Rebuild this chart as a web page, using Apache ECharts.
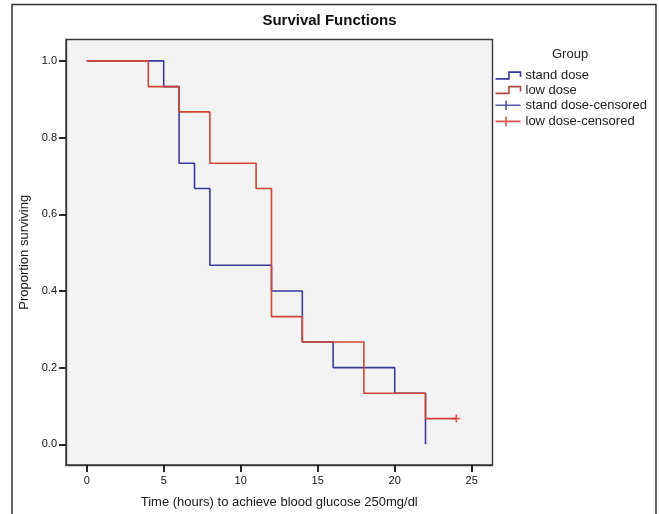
<!DOCTYPE html>
<html>
<head>
<meta charset="utf-8">
<script src="https://cdn.jsdelivr.net/npm/echarts@6/dist/echarts.min.js"></script>
<style>
html,body{margin:0;padding:0;background:#fff;}
#chart{width:659px;height:514px;}
</style>
</head>
<body>
<div id="chart"></div>
<script>
// ---- data ----
const xTicks = [0, 5, 10, 15, 20, 25];
const yTicks = [0.0, 0.2, 0.4, 0.6, 0.8, 1.0];

const standTime = [0, 5, 6, 7, 8, 12, 14, 16, 20, 22];
const standSurv = [1.0, 0.933, 0.733, 0.667, 0.467, 0.4, 0.267, 0.2, 0.133, 0.0];

const lowTime = [0, 4, 6, 8, 11, 12, 14, 18, 22, 24];
const lowSurv = [1.0, 0.933, 0.867, 0.733, 0.667, 0.333, 0.267, 0.133, 0.067, 0.067];

const standCensTime = [];
const standCensSurv = [];
const lowCensTime = [24];
const lowCensSurv = [0.067];

const seriesNames = ['stand dose', 'low dose', 'stand dose-censored', 'low dose-censored'];
const titleText = 'Survival Functions';
const legendTitle = 'Group';
const xName = 'Time (hours) to achieve blood glucose 250mg/dl';
const yName = 'Proportion surviving';

// ---- build ----
const pairs = (xs, ys) => xs.map((x, i) => [x, ys[i]]);
const FONT = '"Liberation Sans", Arial, sans-serif';
const BLUE = '#3a3a9c';
const RED = '#cf4536';
const RED_C = '#dd2a24';
const BLUE_C = '#2c2c90';
const stepIcon = 'path://M0,7L14,7L14,0L26,0L26,5';
const plusIcon = 'path://M0,5L26,5M11,0L11,10';
const plusMark = 'path://M0,5L10,5M5,0L5,10';

const chart = echarts.init(document.getElementById('chart'), null, {renderer: 'canvas'});
chart.setOption({
  animation: false,
  backgroundColor: '#ffffff',
  title: [
    {text: titleText, left: 'center', top: 12, padding: 0,
     textStyle: {fontFamily: FONT, fontSize: 15, fontWeight: 'bold', color: '#111', lineHeight: 18}},
    {text: legendTitle, left: 552, top: 47, padding: 0,
     textStyle: {fontFamily: FONT, fontSize: 13, fontWeight: 'normal', color: '#222', lineHeight: 15}}
  ],
  graphic: [
    {type: 'rect', silent: true, z: -1,
     shape: {x: 12, y: 4.5, width: 644, height: 530},
     style: {fill: 'none', stroke: '#333', lineWidth: 1.5}}
  ],
  legend: {
    orient: 'vertical', left: 493, top: 69, padding: 0,
    itemWidth: 25, itemHeight: 12, itemGap: 1.5, selectedMode: false,
    textStyle: {fontFamily: FONT, fontSize: 13, color: '#1a1a1a'},
    data: [
      {name: seriesNames[0], icon: stepIcon, itemStyle: {color: 'none', borderColor: BLUE, borderWidth: 1.6}},
      {name: seriesNames[1], icon: stepIcon, itemStyle: {color: 'none', borderColor: '#a84a3c', borderWidth: 1.6}},
      {name: seriesNames[2], icon: plusIcon, itemStyle: {color: 'none', borderColor: BLUE_C, borderWidth: 1.6}},
      {name: seriesNames[3], icon: plusIcon, itemStyle: {color: 'none', borderColor: RED_C, borderWidth: 1.6}}
    ]
  },
  grid: {
    left: 66, top: 39.5, width: 426.5, height: 425.5, containLabel: false,
    show: true, backgroundColor: '#f3f3f3', borderColor: '#3a3a3a', borderWidth: 1.4
  },
  xAxis: {
    type: 'value', min: -1.344, max: 26.35,
    name: xName, nameLocation: 'middle', nameGap: 31,
    nameTextStyle: {fontFamily: FONT, fontSize: 13, color: '#1a1a1a'},
    axisLine: {show: true, onZero: false, lineStyle: {color: '#3a3a3a', width: 1.4}},
    axisTick: {show: true, inside: false, length: 7, customValues: xTicks, lineStyle: {color: '#111', width: 1.8}},
    axisLabel: {customValues: xTicks, margin: 10, fontFamily: FONT, fontSize: 11, color: '#111',
                formatter: v => String(v)},
    splitLine: {show: false}
  },
  yAxis: {
    type: 'value', min: -0.054, max: 1.0558,
    name: yName, nameLocation: 'middle', nameGap: 33, nameRotate: 90,
    nameTextStyle: {fontFamily: FONT, fontSize: 13, color: '#1a1a1a'},
    axisLine: {show: true, onZero: false, lineStyle: {color: '#3a3a3a', width: 1.4}},
    axisTick: {show: true, inside: false, length: 7, customValues: yTicks, lineStyle: {color: '#111', width: 1.8}},
    axisLabel: {customValues: yTicks, margin: 9, fontFamily: FONT, fontSize: 11, color: '#111',
                formatter: v => v.toFixed(1)},
    splitLine: {show: false}
  },
  series: [
    {name: seriesNames[0], type: 'line', step: 'end', symbol: 'none',
     data: pairs(standTime, standSurv), lineStyle: {color: BLUE, width: 1.6}, itemStyle: {color: BLUE}, z: 2},
    {name: seriesNames[1], type: 'line', step: 'end', symbol: 'none',
     data: pairs(lowTime, lowSurv), lineStyle: {color: RED, width: 1.6}, itemStyle: {color: RED}, z: 3},
    {name: seriesNames[2], type: 'scatter', symbol: plusMark, symbolSize: 8,
     data: pairs(standCensTime, standCensSurv),
     itemStyle: {color: 'none', borderColor: BLUE_C, borderWidth: 1.5}, z: 4},
    {name: seriesNames[3], type: 'scatter', symbol: plusMark, symbolSize: 8,
     data: pairs(lowCensTime, lowCensSurv),
     itemStyle: {color: 'none', borderColor: RED_C, borderWidth: 1.5}, z: 4}
  ]
});
</script>
</body>
</html>
